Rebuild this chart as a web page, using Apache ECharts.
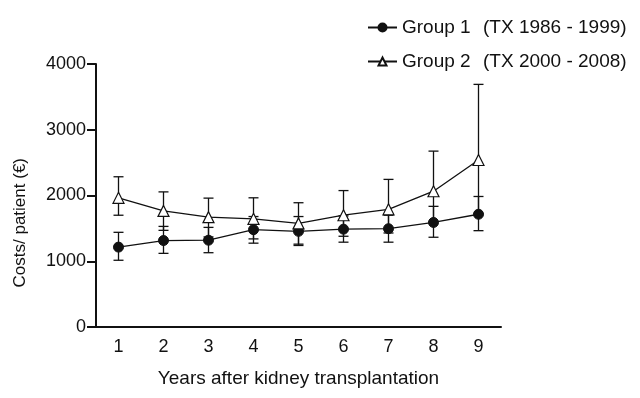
<!DOCTYPE html>
<html>
<head>
<meta charset="utf-8">
<script src="https://cdn.jsdelivr.net/npm/echarts@6/dist/echarts.min.js"></script>
<style>
  html, body { margin: 0; padding: 0; background: #fff; }
  #chart { width: 640px; height: 398px; }
</style>
</head>
<body>
<div id="chart"></div>
<script>
// data
const years = ['1', '2', '3', '4', '5', '6', '7', '8', '9'];
const g1Mean = [1215, 1315, 1320, 1480, 1455, 1488, 1495, 1590, 1715];
const g1Low  = [1015, 1120, 1130, 1275, 1240, 1290, 1290, 1365, 1465];
const g1High = [1440, 1530, 1515, 1680, 1680, 1690, 1700, 1835, 1985];
const g2Mean = [1965, 1765, 1670, 1645, 1575, 1700, 1790, 2065, 2540];
const g2Low  = [1700, 1470, 1370, 1340, 1260, 1380, 1430, 1600, 1720];
const g2High = [2285, 2055, 1960, 1965, 1890, 2075, 2245, 2675, 3690];
const yTicks = [0, 1000, 2000, 3000, 4000];

const legendNote = {
    'Group 1': '(TX 1986 - 1999)',
    'Group 2': '(TX 2000 - 2008)'
};

function errData(lo, hi) {
    let out = [];
    for (let i = 0; i < lo.length; i++) {
        out.push([i, lo[i], hi[i]]);
    }
    return out;
}

function renderErr(params, api) {
    const i = api.value(0);
    const lo = api.coord([i, api.value(1)]);
    const hi = api.coord([i, api.value(2)]);
    const w = 5;
    const st = { stroke: '#111', lineWidth: 1.3 };
    return {
        type: 'group',
        children: [
            { type: 'line', shape: { x1: lo[0], y1: lo[1], x2: hi[0], y2: hi[1] }, style: st },
            { type: 'line', shape: { x1: hi[0] - w, y1: hi[1], x2: hi[0] + w, y2: hi[1] }, style: st },
            { type: 'line', shape: { x1: lo[0] - w, y1: lo[1], x2: lo[0] + w, y2: lo[1] }, style: st }
        ]
    };
}

const myChart = echarts.init(document.getElementById('chart'));
const font = 'Liberation Sans, Arial, sans-serif';
let option = {
    backgroundColor: '#fff',
    animation: false,
    textStyle: { fontFamily: font },
    legend: {
        orient: 'vertical',
        left: 362,
        top: 13,
        itemWidth: 29,
        itemHeight: 10,
        itemGap: 15,
        data: ['Group 1', 'Group 2'],
        formatter: function (name) {
            return '{a|' + name + '}{b|' + legendNote[name] + '}';
        },
        textStyle: {
            fontFamily: font,
            color: '#111',
            rich: {
                a: { fontSize: 19, fontFamily: font, color: '#111', width: 81, lineHeight: 23 },
                b: { fontSize: 19, fontFamily: font, color: '#111', lineHeight: 23 }
            }
        }
    },
    grid: {
        left: 96,
        right: 139,
        top: 64,
        bottom: 71
    },
    xAxis: {
        type: 'category',
        data: years,
        boundaryGap: true,
        name: 'Years after kidney transplantation',
        nameLocation: 'middle',
        nameGap: 42,
        nameTextStyle: { fontSize: 19, color: '#111', fontFamily: font },
        axisLine: { lineStyle: { color: '#111', width: 2 } },
        axisTick: { alignWithLabel: true, length: 6, lineStyle: { color: '#111', width: 2 } },
        axisLabel: { fontSize: 18, color: '#111', margin: 11, fontFamily: font },
        splitLine: { show: false }
    },
    yAxis: {
        type: 'value',
        min: yTicks[0],
        max: yTicks[yTicks.length - 1],
        interval: 1000,
        axisLine: { show: true, lineStyle: { color: '#111', width: 2 } },
        axisTick: { show: true, length: 9, lineStyle: { color: '#111', width: 2 } },
        axisLabel: {
            fontSize: 18, color: '#111', margin: 10, fontFamily: font,
            formatter: function (v) { return String(v); }
        },
        splitLine: { show: false }
    },
    graphic: [{
        type: 'text',
        left: 12,
        top: 158,
        rotation: Math.PI / 2,
        style: {
            text: 'Costs/ patient (€)',
            fontSize: 17,
            fontFamily: font,
            fill: '#111'
        }
    }],
    series: [
        {
            name: 'err1',
            type: 'custom',
            renderItem: renderErr,
            data: errData(g1Low, g1High),
            z: 1,
            silent: true
        },
        {
            name: 'err2',
            type: 'custom',
            renderItem: renderErr,
            data: errData(g2Low, g2High),
            z: 1,
            silent: true
        },
        {
            name: 'Group 1',
            type: 'line',
            data: g1Mean,
            symbol: 'circle',
            symbolSize: 10,
            lineStyle: { color: '#111', width: 1.3 },
            itemStyle: { color: '#111', borderColor: '#111', borderWidth: 1 },
            z: 3
        },
        {
            name: 'Group 2',
            type: 'line',
            data: g2Mean,
            symbol: 'triangle',
            symbolSize: 11,
            lineStyle: { color: '#111', width: 1.3 },
            itemStyle: { color: '#fff', borderColor: '#111', borderWidth: 1.2 },
            z: 4
        }
    ]
};
myChart.setOption(option);
</script>
</body>
</html>
